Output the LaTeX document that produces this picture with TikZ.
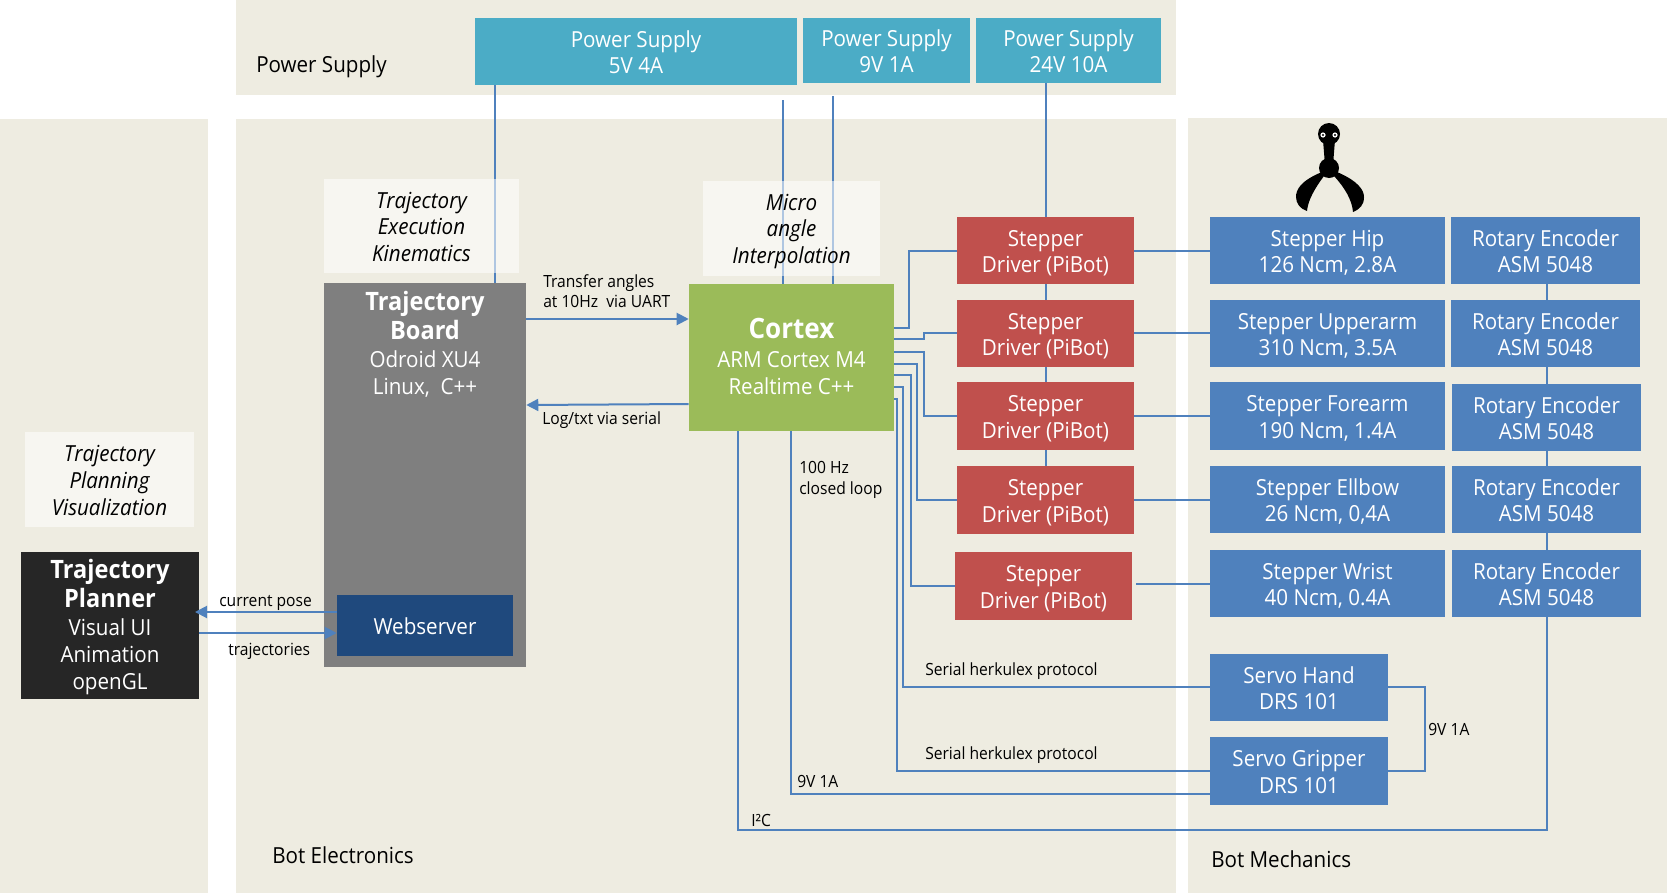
\documentclass[tikz,border=0pt]{standalone}
\usepackage{fontspec}
\setmainfont[FakeStretch=0.93]{Open Sans}
\usetikzlibrary{arrows.meta}
\pgfdeclarelayer{bglayer}\pgfdeclarelayer{wires}
\pgfsetlayers{bglayer,wires,main}
\definecolor{bgc}{HTML}{EEECE1}
\definecolor{wirec}{HTML}{4F81BD}
\definecolor{redc}{HTML}{C0504D}
\definecolor{bluec}{HTML}{4F81BD}
\definecolor{psc}{HTML}{4BACC6}
\definecolor{greenc}{HTML}{9BBB59}
\definecolor{greyc}{HTML}{7F7F7F}
\definecolor{navyc}{HTML}{1F497D}
\definecolor{darkc}{HTML}{262626}
\newcommand\bsa{\rule{0pt}{16.65pt}}
\newcommand\bsb{\rule[-3.35pt]{0pt}{1pt}}
\newcommand\bx[7]{%
 \pgfmathsetmacro\bxcx{(#3+#5)/2}\pgfmathsetmacro\bxcy{(#4+#6)/2}%
 \pgfmathsetmacro\bxw{(#5-#3)*0.75}\pgfmathsetmacro\bxh{(#6-#4)*0.75}%
 \node[#2,minimum width=\bxw pt,minimum height=\bxh pt] (#1) at (\bxcx,\bxcy) {\bsa #7\bsb};}
\newcommand\tb[1]{{\fontsize{19}{20}\selectfont\bfseries #1}}
\newcommand\tc[1]{{\fontsize{21}{26}\selectfont\bfseries #1}}
\tikzset{
 boxbase/.style={inner sep=0pt,align=center,text=white,font=\fontsize{16.6}{20}\selectfont},
 redbox/.style={boxbase,fill=redc},
 bluebox/.style={boxbase,fill=bluec},
 psbox/.style={boxbase,fill=psc},
 notebox/.style={inner sep=0pt,align=center,fill=white,fill opacity=0.55,text opacity=1,text=black,font=\fontsize{16.6}{20}\selectfont\itshape},
 wire/.style={draw=wirec,line width=1.5pt},
 arrow/.style={wire,-{Triangle[length=9pt,width=9pt]}},
 small/.style={inner sep=0pt,anchor=west,align=left,text=black,font=\fontsize{12.6}{15.5}\selectfont},
 section/.style={inner sep=0pt,anchor=west,text=black,font=\fontsize{16.6}{20}\selectfont},
 onbox/.style={inner sep=0pt,align=center,text=white,font=\fontsize{16.6}{20}\selectfont},
}
\begin{document}
\begin{tikzpicture}[x=0.75pt,y=-0.75pt]
\useasboundingbox (0,0) rectangle (1667,893);
\begin{pgfonlayer}{bglayer}
 \fill[white] (0,0) rectangle (1667,893);
 \fill[bgc] (236,0) rectangle (1176,95);
 \fill[bgc] (236,119) rectangle (1176,893);
 \fill[bgc] (1188,118) rectangle (1667,893);
 \fill[bgc] (0,119) rectangle (208,893);
\end{pgfonlayer}
% Power supplies
\bx{psa}{psbox}{475}{18}{797}{85}{Power Supply\\5V 4A}
\bx{psb}{psbox}{803}{18}{970}{83}{Power Supply\\9V 1A}
\bx{psc}{psbox}{976}{18}{1161}{83}{Power Supply\\24V 10A}
% Notes
\bx{nexec}{notebox}{324}{179}{519}{273}{Trajectory\\Execution\\Kinematics}
\bx{nmicro}{notebox}{703}{181}{880}{276}{Micro\\angle\\Interpolation}
\bx{nplan}{notebox}{25}{432}{194}{527}{Trajectory\\Planning\\Visualization}
% Main boards
\bx{board}{boxbase,fill=greyc}{324}{283}{526}{667}{}
\node[onbox,anchor=north] (boardtxt) at (425,291) {\tb{Trajectory}\\[1.5pt]\tb{Board}\\[1.5pt]Odroid XU4\\Linux,\ \ C++};
\bx{web}{boxbase,fill=navyc}{337}{595}{513}{656}{Webserver}
\bx{cortex}{boxbase,fill=greenc}{689}{284}{894}{431}{\tc{Cortex}\\[1.5pt]ARM Cortex M4\\Realtime C++}
\bx{planner}{boxbase,fill=darkc}{21}{552}{199}{699}{\tb{Trajectory}\\[1.5pt]\tb{Planner}\\[1.5pt]Visual UI\\Animation\\openGL}
% Drivers
\bx{da}{redbox}{957}{217}{1134}{284}{Stepper\\Driver (PiBot)}
\bx{db}{redbox}{957}{300}{1134}{367}{Stepper\\Driver (PiBot)}
\bx{dc}{redbox}{957}{382}{1134}{450}{Stepper\\Driver (PiBot)}
\bx{dd}{redbox}{957}{466}{1134}{534}{Stepper\\Driver (PiBot)}
\bx{de}{redbox}{955}{552}{1132}{620}{Stepper\\Driver (PiBot)}
% Steppers
\bx{sa}{bluebox}{1210}{217}{1445}{284}{Stepper Hip\\126 Ncm, 2.8A}
\bx{sb}{bluebox}{1210}{300}{1445}{367}{Stepper Upperarm\\310 Ncm, 3.5A}
\bx{sc}{bluebox}{1210}{382}{1445}{450}{Stepper Forearm\\190 Ncm, 1.4A}
\bx{sd}{bluebox}{1210}{466}{1445}{533}{Stepper Ellbow\\26 Ncm, 0,4A}
\bx{se}{bluebox}{1210}{550}{1445}{617}{Stepper Wrist\\40 Ncm, 0.4A}
% Encoders
\bx{ea}{bluebox}{1451}{217}{1640}{284}{Rotary Encoder\\ASM 5048}
\bx{eb}{bluebox}{1451}{300}{1640}{367}{Rotary Encoder\\ASM 5048}
\bx{ec}{bluebox}{1452}{384}{1641}{451}{Rotary Encoder\\ASM 5048}
\bx{ed}{bluebox}{1452}{466}{1641}{533}{Rotary Encoder\\ASM 5048}
\bx{ee}{bluebox}{1452}{550}{1641}{617}{Rotary Encoder\\ASM 5048}
% Servos
\bx{sh}{bluebox}{1210}{654}{1388}{721}{Servo Hand\\DRS 101}
\bx{sg}{bluebox}{1210}{737}{1388}{805}{Servo Gripper\\DRS 101}
% Named free ends
\coordinate (pfree9a) at (783,100);
\coordinate (pfree9b) at (833,96);
% Wires
\begin{pgfonlayer}{wires}
 \draw[wire] (psa.south -| 495,0) -- (board.north -| 495,0);
 \draw[wire] (pfree9a) -- (cortex.north -| pfree9a);
 \draw[wire] (pfree9b) -- (cortex.north -| pfree9b);
 \draw[wire] (psc.south -| da.north) -- (da.north);
 \draw[wire] (da.south) -- (db.north);
 \draw[wire] (db.south) -- (dc.north);
 \draw[wire] (dc.south) -- (dd.north);
 \draw[wire] (cortex.east |- 0,328) -- (909,328) -- (909,251) -- (da.west |- 0,251);
 \draw[wire] (cortex.east |- 0,339) -- (924,339) -- (924,333) -- (db.west |- 0,333);
 \draw[wire] (cortex.east |- 0,352) -- (924,352) -- (924,416) -- (dc.west |- 0,416);
 \draw[wire] (cortex.east |- 0,364) -- (917,364) -- (917,500) -- (dd.west |- 0,500);
 \draw[wire] (cortex.east |- 0,375) -- (911,375) -- (911,586) -- (de.west |- 0,586);
 \draw[wire] (cortex.east |- 0,387) -- (903,387) -- (903,687) -- (sh.west |- 0,687);
 \draw[wire] (cortex.east |- 0,399) -- (897,399) -- (897,771) -- (sg.west |- 0,771);
 \draw[wire] (cortex.south -| 791,0) -- (791,794) -- (sg.west |- 0,794);
 \draw[wire] (cortex.south -| 738,0) -- (738,830) -- (1547,830) -- (1547,284);
 \draw[wire] (da.east |- 0,251) -- (sa.west |- 0,251);
 \draw[wire] (db.east |- 0,333) -- (sb.west |- 0,333);
 \draw[wire] (dc.east |- 0,416) -- (sc.west |- 0,416);
 \draw[wire] (dd.east |- 0,500) -- (sd.west |- 0,500);
 \draw[wire] (1136,584) -- (se.west |- 0,584);
 \draw[wire] (sh.east |- 0,687) -- (1425,687) -- (1425,771) -- (sg.east |- 0,771);
\end{pgfonlayer}
% Arrows
\draw[arrow] (board.east |- 0,319) -- (cortex.west |- 0,319);
\draw[arrow] (cortex.west |- 0,404) -- (board.east |- 0,405);
\draw[arrow] (web.west |- 0,612) -- (195,612);
\draw[arrow] (planner.east |- 0,633) -- (web.west |- 0,633);
% Labels
\node[section] (lpower) at (256,67) {Power Supply};
\node[section] (lelec) at (272,855) {Bot Electronics};
\node[section] (lmech) at (1211,859) {Bot Mechanics};
\node[small] (ltrans) at (543,291) {Transfer angles\\at 10Hz\ \ via UART};
\node[small] (llog) at (542,420) {Log/txt via serial};
\node[small] (lloop) at (799,480) {100 Hz\\closed loop};
\node[small] (lcur) at (219,603) {current pose};
\node[small] (ltraj) at (228,651) {trajectories};
\node[small] (lsera) at (925,671) {Serial herkulex protocol};
\node[small] (lserb) at (925,755) {Serial herkulex protocol};
\node[small] (l9a) at (797,781) {9V 1A};
\node[small] (l9b) at (1428,729) {9V 1A};
\node[small] (li2c) at (751,820) {I²C};
% Logo
\fill[black] (1323,140) -- (1335,140) -- (1333,165) -- (1325,165) -- cycle;
\fill[black] (1329,134) circle[radius=11];
\fill[black] (1329,168) circle[radius=10];
\fill[white] (1323,135) circle[radius=2.6];
\fill[white] (1335,135) circle[radius=2.6];
\fill[black] (1323,135) circle[radius=1.1];
\fill[black] (1335,135) circle[radius=1.1];
\fill[black] (1322,172) .. controls (1300,181) and (1296,190) .. (1296,197) .. controls (1296,203) and (1300,209) .. (1307,211) .. controls (1308,200) and (1315,188) .. (1324,176) -- cycle;
\fill[black] (1337,172) .. controls (1358,181) and (1364,190) .. (1364,197) .. controls (1364,205) and (1360,209) .. (1353,212) .. controls (1352,200) and (1345,188) .. (1334,176) -- cycle;
\end{tikzpicture}
\end{document}
